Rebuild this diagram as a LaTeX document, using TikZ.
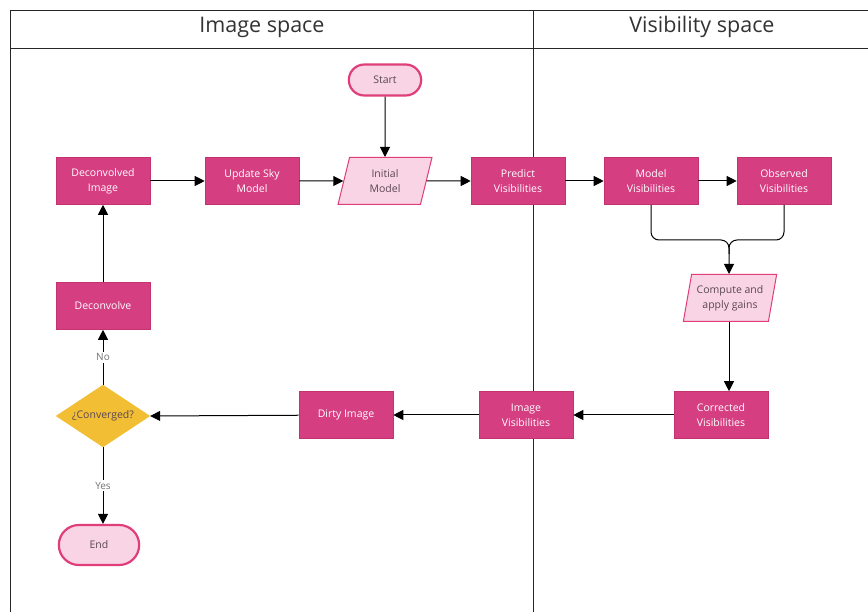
\documentclass[tikz,border=0pt]{standalone}
\usepackage{fontspec}
\setmainfont{Open Sans}
\usetikzlibrary{arrows.meta,shapes.geometric,shapes.misc}
\definecolor{mag}{RGB}{214,62,130}
\definecolor{magdark}{RGB}{196,50,112}
\definecolor{lightpk}{RGB}{249,212,228}
\definecolor{pkborder}{RGB}{224,62,122}
\definecolor{darktxt}{RGB}{90,70,85}
\definecolor{yel}{RGB}{242,190,52}
\tikzset{
  procbox/.style={rectangle, fill=mag, draw=magdark, line width=0.6pt, minimum width=94, minimum height=47, inner sep=2pt, text=white, font=\fontsize{10.5}{15}\selectfont, align=center},
  termbox/.style={rounded rectangle, fill=lightpk, draw=pkborder, line width=2.2pt, text=darktxt, font=\fontsize{10.5}{15}\selectfont, align=center},
  iobox/.style={trapezium, trapezium stretches=true, fill=lightpk, draw=pkborder, line width=1pt, minimum width=94, minimum height=47, inner sep=1pt, text=darktxt, font=\fontsize{10.5}{15}\selectfont, align=center},
  conn/.style={line width=1pt, draw=black, -{Triangle[length=10pt,width=10pt]}},
  lbl/.style={fill=white, text=black!55, font=\fontsize{10}{12}\selectfont, inner sep=2pt},
  frameline/.style={line width=0.9pt, draw=black!85},
}
\begin{document}
\begin{tikzpicture}[x=1pt,y=-1pt]
\useasboundingbox (0,0) rectangle (868,612);
\fill[white] (0,0) rectangle (868,612);
% frame
\draw[frameline] (10,612) -- (10,10) -- (868,10);
\draw[frameline] (10,48) -- (868,48);
\draw[frameline] (533,10) -- (533,612);
\node[font=\fontsize{21.5}{24}\selectfont, text=black!80] (t1) at (262,27) {Image space};
\node[font=\fontsize{21.5}{24}\selectfont, text=black!80] (t2) at (702,27) {Visibility space};
% nodes
\node[termbox, minimum width=79, minimum height=31] (start) at (385,80) {Start};
\node[iobox, trapezium left angle=78, trapezium right angle=102] (init) at (385,181) {Initial\\Model};
\node[procbox] (decimg) at (103,181) {Deconvolved\\Image};
\node[procbox] (update) at (252,181) {Update Sky\\Model};
\node[procbox] (predict) at (518,181) {Predict\\Visibilities};
\node[procbox] (model) at (651,181) {Model\\Visibilities};
\node[procbox] (obs) at (784,181) {Observed\\Visibilities};
\node[iobox, trapezium left angle=75, trapezium right angle=105] (gains) at (730,298) {Compute and\\apply gains};
\node[procbox] (corr) at (721,415) {Corrected\\Visibilities};
\node[procbox] (imvis) at (526,415) {Image\\Visibilities};
\node[procbox] (dirty) at (346,415) {Dirty Image};
\node[procbox] (deconv) at (103,306) {Deconvolve};
\node[minimum width=94, minimum height=62, inner sep=0] (conv) at (103,416) {};
\fill[yel] (conv.north) -- (conv.east) -- (conv.south) -- (conv.west) -- cycle;
\node[text=darktxt, font=\fontsize{10.5}{12}\selectfont] (convt) at (conv.center) {¿Converged?};
\node[termbox, minimum width=87, minimum height=40] (end) at (99,545) {End};
\coordinate (m) at (729,240);
\coordinate (m2) at (729,254);
% connectors
\draw[conn] (start) -- (init);
\draw[conn] (decimg) -- (update);
\draw[conn] (update) -- (init);
\draw[conn] (init) -- (predict);
\draw[conn] (predict) -- (model);
\draw[conn] (model) -- (obs);
\draw[line width=1pt, draw=black, rounded corners=8pt] (model.south) |- (m) -- (m2);
\draw[conn, rounded corners=8pt] (obs.south) |- (m) -- (m |- gains.north);
\draw[conn] (gains.south -| m) -- (m |- corr.north);
\draw[conn] (corr) -- (imvis);
\draw[conn] (imvis) -- (dirty);
\draw[conn] (dirty) -- (conv.east);
\draw[conn] (conv.north) -- node[lbl, pos=0.5] {No} (deconv);
\draw[conn] (deconv) -- (decimg);
\draw[conn] (conv.south) -- node[lbl, pos=0.5] {Yes} (end.north -| conv.south);
\end{tikzpicture}
\end{document}
